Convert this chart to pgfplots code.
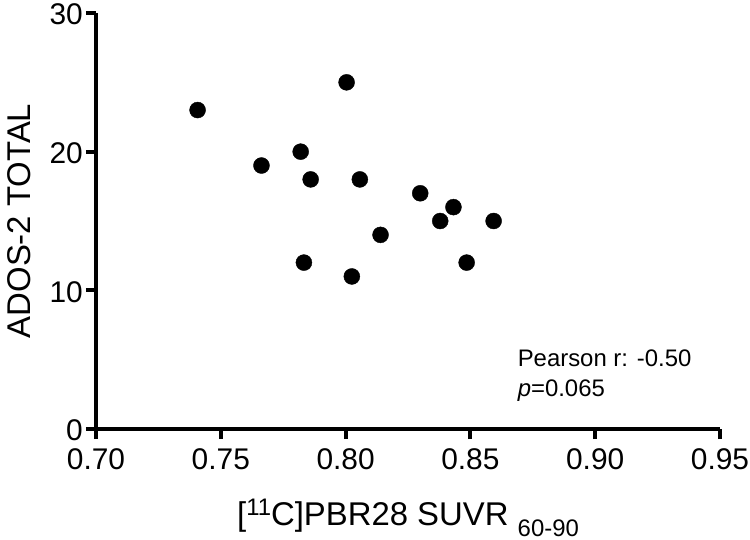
\documentclass[border=0pt]{standalone}
\usepackage{pgfplots}
\pgfplotsset{compat=1.18}
\usepackage{fontspec}
\setmainfont{Liberation Sans}
\begin{document}
\begin{tikzpicture}
\path[use as bounding box] (0,0) rectangle (750bp,540bp);
\begin{axis}[
  at={(96bp,111bp)}, anchor=south west,
  scale only axis, width=624bp, height=416bp,
  xmin=0.70, xmax=0.95, ymin=0, ymax=30,
  axis x line*=bottom, axis y line*=left,
  axis line style={line width=4bp, black},
  every tick/.style={line width=4bp, black},
  tick align=outside, major tick length=10bp,
  xtick={0.70,0.75,0.80,0.85,0.90,0.95},
  xticklabels={0.70,0.75,0.80,0.85,0.90,0.95},
  ytick={0,10,20,30},
  yticklabels={0,10,20,30},
  /pgf/number format/assume math mode=true,
  ticklabel style={font=\fontsize{30}{30}\selectfont},
  xticklabel style={inner sep=0pt, yshift=-9bp},
  yticklabel style={inner sep=3bp, yshift=-1.5bp},
  xlabel={[\raisebox{10bp}{\fontsize{24}{24}\selectfont 11}C]PBR28 SUVR \raisebox{-11bp}{\fontsize{24}{24}\selectfont 60-90}},
  xlabel style={at={(axis description cs:0.5,-0.2315)}, anchor=base, inner sep=0pt, font=\fontsize{33}{33}\selectfont},
  ylabel={ADOS-2 TOTAL},
  ylabel style={at={(axis description cs:-0.1426,0.5)}, anchor=north, inner sep=0pt, rotate=0, font=\fontsize{33}{33}\selectfont},
  clip=false,
]
\addplot[only marks, mark=*, mark size=8bp, mark options={draw=black, fill=black}] table {
x y
0.7407 23
0.8004 25
0.7820 20
0.7663 19
0.7860 18
0.8057 18
0.7833 12
0.8299 17
0.8432 16
0.8379 15
0.8593 15
0.8140 14
0.8485 12
0.8025 11
};
\node[anchor=base west, inner sep=0pt, font=\fontsize{24}{24}\selectfont] at (axis cs:0.8689,4.49) {Pearson r: -0.50};
\node[anchor=base west, inner sep=0pt, font=\fontsize{24}{24}\selectfont] at (axis cs:0.8689,2.33) {\textit{p}=0.065};
\end{axis}
\end{tikzpicture}
\end{document}
